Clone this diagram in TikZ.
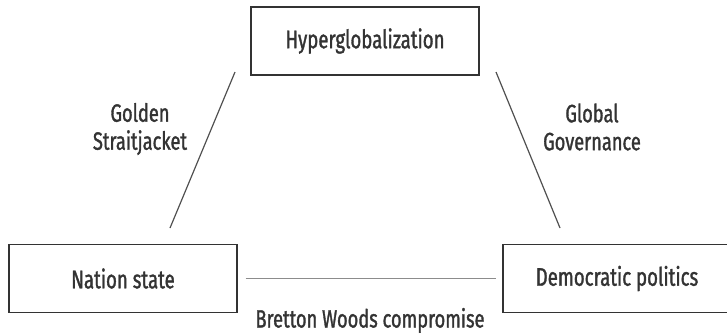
\documentclass[tikz,border=0pt]{standalone}
\usepackage{fontspec}
\setmainfont{Fira Sans}[FakeStretch=0.73, FakeBold=1.3]
\usepackage{xcolor}
\usepackage{tikz}
\usetikzlibrary{positioning}
\definecolor{inkgray}{HTML}{333333}
\definecolor{linegray}{HTML}{505050}
\definecolor{softgray}{HTML}{8C8C8C}

\begin{document}
\begin{tikzpicture}[x=1bp, y=-1bp,
  box/.style={draw=inkgray, line width=1.3bp, minimum width=228bp, minimum height=68bp, inner sep=0pt, text=inkgray, font=\fontsize{25.5bp}{28bp}\selectfont},
  lab/.style={align=center, text=inkgray, font=\fontsize{25bp}{28bp}\selectfont},
  link/.style={draw=linegray, line width=1.2bp}]
\useasboundingbox (0,0) rectangle (727,334);
\clip (0,0) rectangle (727,334);
\node[box] (hyper) at (365,41) {Hyperglobalization};
\node[box] (nation) at (123,278.5) {Nation state};
\node[box] (demo) at (617,278.5) {Democratic politics};
% free ends of the two slanted lines
\coordinate (gsTop) at (235,72);
\coordinate (gsBot) at (170,228);
\coordinate (ggTop) at (496,72);
\coordinate (ggBot) at (560,228);
\draw[link] (gsTop) -- (gsBot);
\draw[link] (ggTop) -- (ggBot);
\draw[draw=softgray, line width=1.8bp] ([xshift=8bp]nation.east) -- ([xshift=-6bp]demo.west);
\node[lab] (golden) at (140,129) {Golden\\Straitjacket};
\node[lab] (global) at (592,127) {Global\\Governance};
\node[lab, anchor=base] (bretton) at (370,327.5) {Bretton Woods compromise};
\end{tikzpicture}
\end{document}
